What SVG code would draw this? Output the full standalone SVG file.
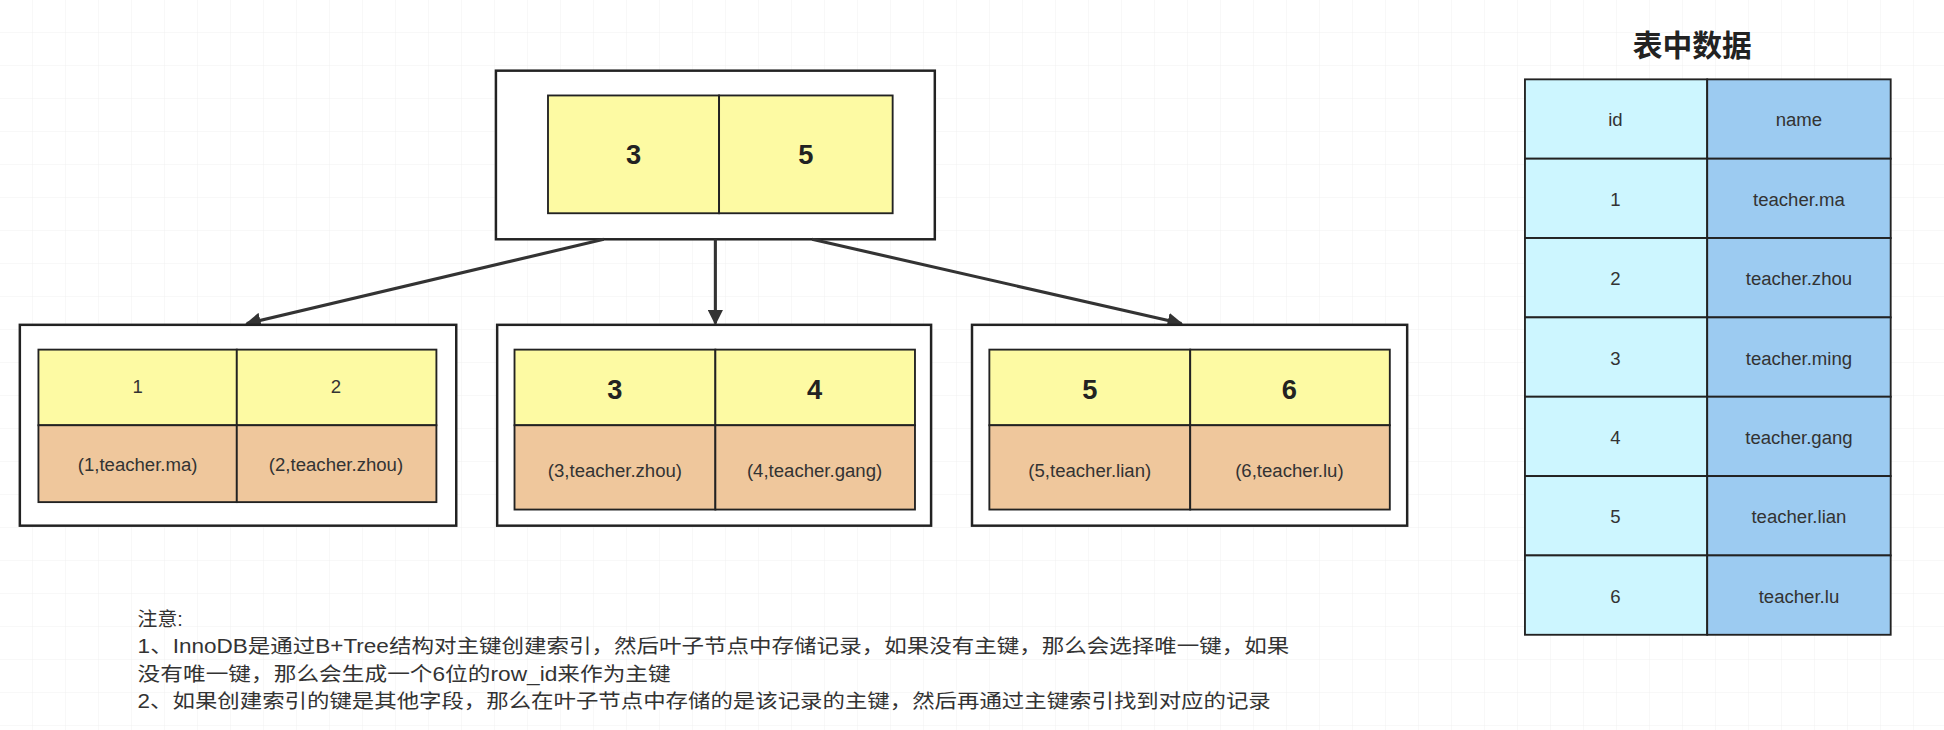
<svg xmlns="http://www.w3.org/2000/svg" width="1944" height="730" viewBox="0 0 1944 730">
<defs>
<style>
.ob{fill:#fff;stroke:#222;stroke-width:2}
.y{fill:#fdfaa3;stroke:#222;stroke-width:1.5}
.o{fill:#efc79c;stroke:#222;stroke-width:1.5}
.c1{fill:#cdf6ff;stroke:#222;stroke-width:1.5}
.c2{fill:#9ccbf1;stroke:#222;stroke-width:1.5}
.big{font-family:"Liberation Sans",sans-serif;font-weight:bold;font-size:22px;text-anchor:middle;fill:#222}
.sm{font-family:"Liberation Sans",sans-serif;font-size:15px;text-anchor:middle;fill:#333}
.note{font-family:"Liberation Sans","Noto Sans CJK SC",sans-serif;font-size:16px;fill:#333}
.ttl{font-family:"Liberation Sans","Noto Sans CJK SC",sans-serif;font-weight:bold;font-size:24px;text-anchor:middle;fill:#222}
.ar{stroke:#333;stroke-width:2.5;fill:none}
</style>
<marker id="ah" viewBox="0 0 10 10" refX="9" refY="5" markerWidth="5" markerHeight="5" orient="auto"><path d="M0,0L10,5L0,10z" fill="#333"/></marker>
<pattern id="grid" width="33" height="33" patternUnits="userSpaceOnUse"><path d="M33,0V33H0" fill="none" stroke="#f0f0f0" stroke-width="1"/></pattern>
</defs>
<rect width="1944" height="730" fill="#fff"/>
<rect width="1944" height="730" fill="url(#grid)"/>
<g transform="scale(1.2398)">
<g id="root"><rect class="ob" x="400" y="57" width="354" height="136"/>
<rect class="y" x="442" y="77" width="138" height="95"/><rect class="y" x="580" y="77" width="140" height="95"/>
<text class="big" x="511" y="132">3</text><text class="big" x="650" y="132">5</text></g>
<g id="connectors">
<line class="ar" x1="487" y1="193" x2="199" y2="261" marker-end="url(#ah)"/>
<line class="ar" x1="577" y1="193" x2="577" y2="261" marker-end="url(#ah)"/>
<line class="ar" x1="655" y1="193" x2="953" y2="261" marker-end="url(#ah)"/>
</g>
<g id="leaf1"><rect class="ob" x="16" y="262" width="352" height="162"/>
<rect class="y" x="31" y="282" width="160" height="61"/><rect class="y" x="191" y="282" width="161" height="61"/>
<rect class="o" x="31" y="343" width="160" height="62"/><rect class="o" x="191" y="343" width="161" height="62"/>
<text class="sm" x="111" y="317">1</text><text class="sm" x="271" y="317">2</text>
<text class="sm" x="111" y="380">(1,teacher.ma)</text><text class="sm" x="271" y="380">(2,teacher.zhou)</text></g>
<g id="leaf2"><rect class="ob" x="401" y="262" width="350" height="162"/>
<rect class="y" x="415" y="282" width="162" height="61"/><rect class="y" x="577" y="282" width="161" height="61"/>
<rect class="o" x="415" y="343" width="162" height="68"/><rect class="o" x="577" y="343" width="161" height="68"/>
<text class="big" x="496" y="322">3</text><text class="big" x="657" y="322">4</text>
<text class="sm" x="496" y="385">(3,teacher.zhou)</text><text class="sm" x="657" y="385">(4,teacher.gang)</text></g>
<g id="leaf3"><rect class="ob" x="784" y="262" width="351" height="162"/>
<rect class="y" x="798" y="282" width="162" height="61"/><rect class="y" x="960" y="282" width="161" height="61"/>
<rect class="o" x="798" y="343" width="162" height="68"/><rect class="o" x="960" y="343" width="161" height="68"/>
<text class="big" x="879" y="322">5</text><text class="big" x="1040" y="322">6</text>
<text class="sm" x="879" y="385">(5,teacher.lian)</text><text class="sm" x="1040" y="385">(6,teacher.lu)</text></g>
<g id="table">
<text class="ttl" x="1365" y="45">表中数据</text>
<rect class="c1" x="1230" y="64" width="147" height="64"/><rect class="c2" x="1377" y="64" width="148" height="64"/>
<text class="sm" x="1303" y="102">id</text><text class="sm" x="1451" y="102">name</text>
<rect class="c1" x="1230" y="128" width="147" height="64"/><rect class="c2" x="1377" y="128" width="148" height="64"/>
<text class="sm" x="1303" y="166">1</text><text class="sm" x="1451" y="166">teacher.ma</text>
<rect class="c1" x="1230" y="192" width="147" height="64"/><rect class="c2" x="1377" y="192" width="148" height="64"/>
<text class="sm" x="1303" y="230">2</text><text class="sm" x="1451" y="230">teacher.zhou</text>
<rect class="c1" x="1230" y="256" width="147" height="64"/><rect class="c2" x="1377" y="256" width="148" height="64"/>
<text class="sm" x="1303" y="294">3</text><text class="sm" x="1451" y="294">teacher.ming</text>
<rect class="c1" x="1230" y="320" width="147" height="64"/><rect class="c2" x="1377" y="320" width="148" height="64"/>
<text class="sm" x="1303" y="358">4</text><text class="sm" x="1451" y="358">teacher.gang</text>
<rect class="c1" x="1230" y="384" width="147" height="64"/><rect class="c2" x="1377" y="384" width="148" height="64"/>
<text class="sm" x="1303" y="422">5</text><text class="sm" x="1451" y="422">teacher.lian</text>
<rect class="c1" x="1230" y="448" width="147" height="64"/><rect class="c2" x="1377" y="448" width="148" height="64"/>
<text class="sm" x="1303" y="486">6</text><text class="sm" x="1451" y="486">teacher.lu</text>
</g>
<g id="note">
<text class="note" x="111" y="505">注意:</text>
<text class="note" x="111" y="527" textLength="929" lengthAdjust="spacingAndGlyphs">1、InnoDB是通过B+Tree结构对主键创建索引，然后叶子节点中存储记录，如果没有主键，那么会选择唯一键，如果</text>
<text class="note" x="111" y="549" textLength="430" lengthAdjust="spacingAndGlyphs">没有唯一键，那么会生成一个6位的row_id来作为主键</text>
<text class="note" x="111" y="571" textLength="914" lengthAdjust="spacingAndGlyphs">2、如果创建索引的键是其他字段，那么在叶子节点中存储的是该记录的主键，然后再通过主键索引找到对应的记录</text>
</g>
</g>
</svg>
